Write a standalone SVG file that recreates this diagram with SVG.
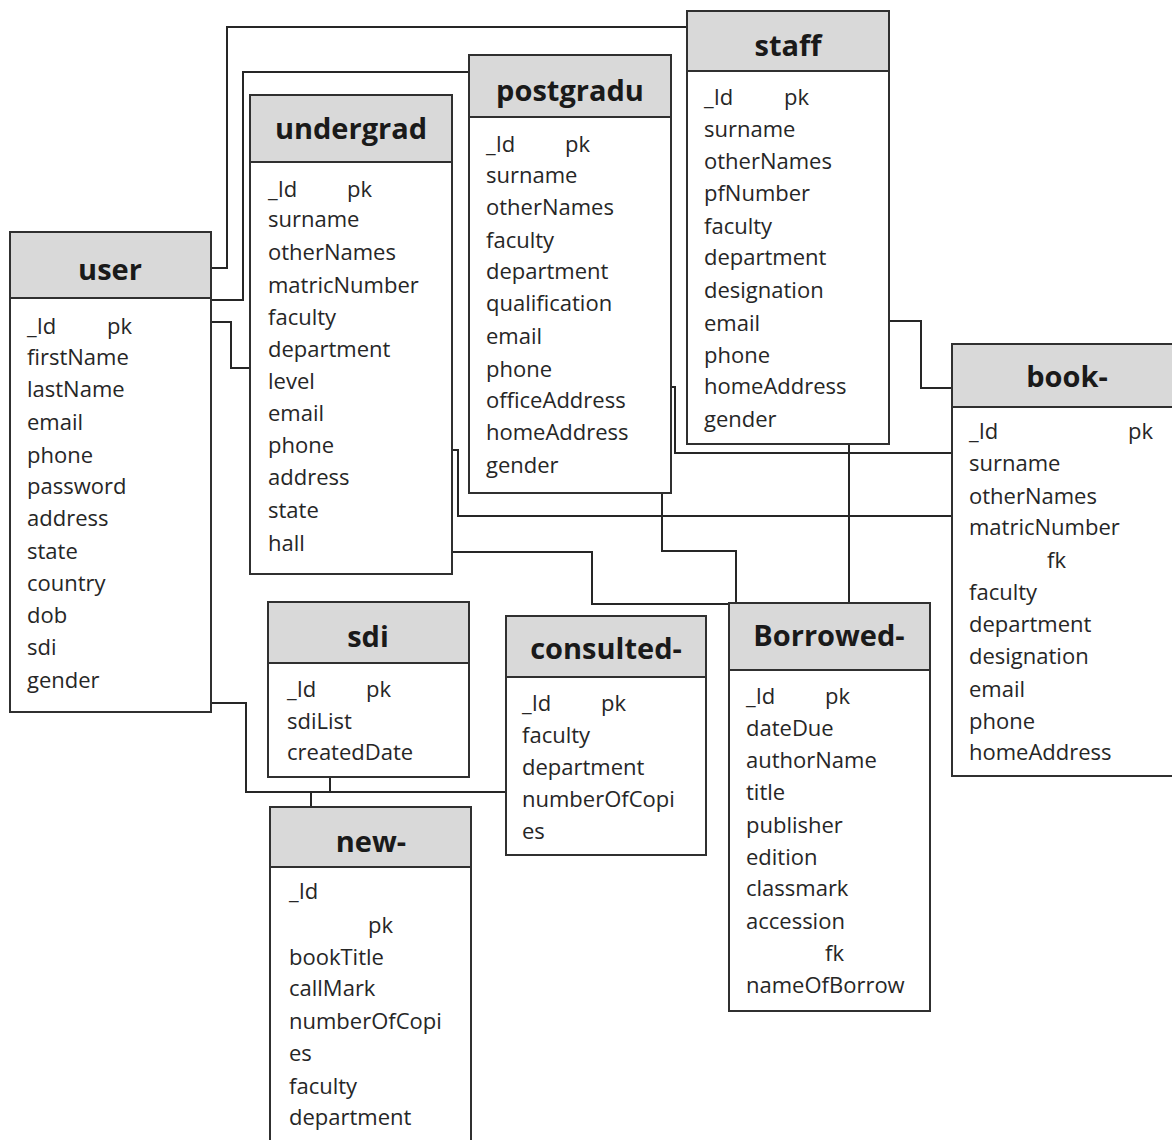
<svg xmlns="http://www.w3.org/2000/svg" width="1172" height="1140" viewBox="0 0 1172 1140">
<style>
.box{fill:#ffffff;stroke:#303030;stroke-width:2}
.hdr{fill:#d9d9d9;stroke:#303030;stroke-width:2}
.t{font-family:"Open Sans","Liberation Sans",sans-serif;font-size:29px;font-weight:bold;fill:#1a1a1a;text-anchor:middle}
.f{font-family:"Open Sans","Liberation Sans",sans-serif;font-size:22px;fill:#262626}
.c{fill:none;stroke:#262626;stroke-width:2}
</style>
<rect width="1172" height="1140" fill="#ffffff"/>
<g id="connectors">
<polyline class="c" points="211,268 227,268 227,27 687,27"/>
<polyline class="c" points="211,300 243,300 243,72 469,72"/>
<polyline class="c" points="208,322 231,322 231,368 250,368"/>
<polyline class="c" points="211,703 246,703 246,792 506,792"/>
<polyline class="c" points="330,777 330,792"/>
<polyline class="c" points="311,792 311,807"/>
<polyline class="c" points="450,450 458,450 458,516 952,516"/>
<polyline class="c" points="452,552 592,552 592,604 735,604"/>
<polyline class="c" points="662,493 662,551 736,551 736,604"/>
<polyline class="c" points="668,387 675,387 675,453 952,453"/>
<polyline class="c" points="889,321 921,321 921,388 952,388"/>
<polyline class="c" points="849,444 849,603"/>
</g>
<g id="user">
<rect class="box" x="10" y="232" width="201" height="480"/>
<rect class="hdr" x="10" y="232" width="201" height="66"/>
<text class="t" x="110" y="280">user</text>
<text class="f"><tspan x="27" y="334">_Id</tspan><tspan x="107" y="334">pk</tspan><tspan x="27" y="365">firstName</tspan><tspan x="27" y="397">lastName</tspan><tspan x="27" y="430">email</tspan><tspan x="27" y="463">phone</tspan><tspan x="27" y="494">password</tspan><tspan x="27" y="526">address</tspan><tspan x="27" y="559">state</tspan><tspan x="27" y="591">country</tspan><tspan x="27" y="623">dob</tspan><tspan x="27" y="655">sdi</tspan><tspan x="27" y="688">gender</tspan></text>
</g>
<g id="undergrad">
<rect class="box" x="250" y="95" width="202" height="479"/>
<rect class="hdr" x="250" y="95" width="202" height="67"/>
<text class="t" x="351" y="139">undergrad</text>
<text class="f"><tspan x="268" y="197">_Id</tspan><tspan x="347" y="197">pk</tspan><tspan x="268" y="227">surname</tspan><tspan x="268" y="260">otherNames</tspan><tspan x="268" y="293">matricNumber</tspan><tspan x="268" y="325">faculty</tspan><tspan x="268" y="357">department</tspan><tspan x="268" y="389">level</tspan><tspan x="268" y="421">email</tspan><tspan x="268" y="453">phone</tspan><tspan x="268" y="485">address</tspan><tspan x="268" y="518">state</tspan><tspan x="268" y="551">hall</tspan></text>
</g>
<g id="postgradu">
<rect class="box" x="469" y="55" width="202" height="438"/>
<rect class="hdr" x="469" y="55" width="202" height="62"/>
<text class="t" x="570" y="101">postgradu</text>
<text class="f"><tspan x="486" y="152">_Id</tspan><tspan x="565" y="152">pk</tspan><tspan x="486" y="183">surname</tspan><tspan x="486" y="215">otherNames</tspan><tspan x="486" y="248">faculty</tspan><tspan x="486" y="279">department</tspan><tspan x="486" y="311">qualification</tspan><tspan x="486" y="344">email</tspan><tspan x="486" y="377">phone</tspan><tspan x="486" y="408">officeAddress</tspan><tspan x="486" y="440">homeAddress</tspan><tspan x="486" y="473">gender</tspan></text>
</g>
<g id="staff">
<rect class="box" x="687" y="11" width="202" height="433"/>
<rect class="hdr" x="687" y="11" width="202" height="60"/>
<text class="t" x="788" y="56">staff</text>
<text class="f"><tspan x="704" y="105">_Id</tspan><tspan x="784" y="105">pk</tspan><tspan x="704" y="137">surname</tspan><tspan x="704" y="169">otherNames</tspan><tspan x="704" y="201">pfNumber</tspan><tspan x="704" y="234">faculty</tspan><tspan x="704" y="265">department</tspan><tspan x="704" y="298">designation</tspan><tspan x="704" y="331">email</tspan><tspan x="704" y="363">phone</tspan><tspan x="704" y="394">homeAddress</tspan><tspan x="704" y="427">gender</tspan></text>
</g>
<g id="book">
<rect class="box" x="952" y="344" width="230" height="432"/>
<rect class="hdr" x="952" y="344" width="230" height="63"/>
<text class="t" x="1067" y="387">book-</text>
<text class="f"><tspan x="969" y="439">_Id</tspan><tspan x="1128" y="439">pk</tspan><tspan x="969" y="471">surname</tspan><tspan x="969" y="504">otherNames</tspan><tspan x="969" y="535">matricNumber</tspan><tspan x="1047" y="568">fk</tspan><tspan x="969" y="600">faculty</tspan><tspan x="969" y="632">department</tspan><tspan x="969" y="664">designation</tspan><tspan x="969" y="697">email</tspan><tspan x="969" y="729">phone</tspan><tspan x="969" y="760">homeAddress</tspan></text>
</g>
<g id="sdi">
<rect class="box" x="268" y="602" width="201" height="175"/>
<rect class="hdr" x="268" y="602" width="201" height="61"/>
<text class="t" x="368" y="647">sdi</text>
<text class="f"><tspan x="287" y="697">_Id</tspan><tspan x="366" y="697">pk</tspan><tspan x="287" y="729">sdiList</tspan><tspan x="287" y="760">createdDate</tspan></text>
</g>
<g id="consulted">
<rect class="box" x="506" y="616" width="200" height="239"/>
<rect class="hdr" x="506" y="616" width="200" height="61"/>
<text class="t" x="606" y="659">consulted-</text>
<text class="f"><tspan x="522" y="711">_Id</tspan><tspan x="601" y="711">pk</tspan><tspan x="522" y="743">faculty</tspan><tspan x="522" y="775">department</tspan><tspan x="522" y="807">numberOfCopi</tspan><tspan x="522" y="839">es</tspan></text>
</g>
<g id="borrowed">
<rect class="box" x="729" y="603" width="201" height="408"/>
<rect class="hdr" x="729" y="603" width="201" height="67"/>
<text class="t" x="829" y="646">Borrowed-</text>
<text class="f"><tspan x="746" y="704">_Id</tspan><tspan x="825" y="704">pk</tspan><tspan x="746" y="736">dateDue</tspan><tspan x="746" y="768">authorName</tspan><tspan x="746" y="800">title</tspan><tspan x="746" y="833">publisher</tspan><tspan x="746" y="865">edition</tspan><tspan x="746" y="896">classmark</tspan><tspan x="746" y="929">accession</tspan><tspan x="825" y="961">fk</tspan><tspan x="746" y="993">nameOfBorrow</tspan></text>
</g>
<g id="new">
<rect class="box" x="270" y="807" width="201" height="345"/>
<rect class="hdr" x="270" y="807" width="201" height="60"/>
<text class="t" x="371" y="852">new-</text>
<text class="f"><tspan x="289" y="899">_Id</tspan><tspan x="368" y="933">pk</tspan><tspan x="289" y="965">bookTitle</tspan><tspan x="289" y="996">callMark</tspan><tspan x="289" y="1029">numberOfCopi</tspan><tspan x="289" y="1061">es</tspan><tspan x="289" y="1094">faculty</tspan><tspan x="289" y="1125">department</tspan></text>
</g>
</svg>
